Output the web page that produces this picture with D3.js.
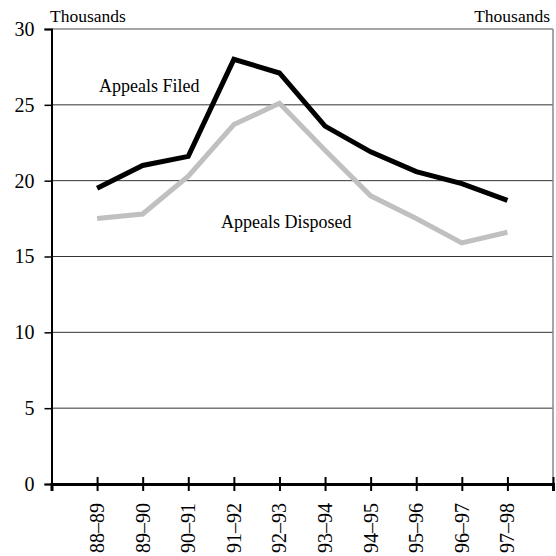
<!DOCTYPE html>
<html><head><meta charset="utf-8">
<script src="https://cdn.jsdelivr.net/npm/d3@7"></script>
<style>body{margin:0;background:#fff}svg{display:block}</style>
</head><body>
<script>
const categories = ["88–89","89–90","90–91","91–92","92–93","93–94","94–95","95–96","96–97","97–98"];
const appealsFiled = [19.5, 21.0, 21.6, 28.0, 27.1, 23.6, 21.9, 20.6, 19.8, 18.7];
const appealsDisposed = [17.5, 17.8, 20.3, 23.7, 25.1, 22.0, 19.0, 17.5, 15.9, 16.6];
const yTicks = [0, 5, 10, 15, 20, 25, 30];

const W = 556, H = 556;
const svg = d3.select("body").append("svg").attr("width", W).attr("height", H);
const font = "'Liberation Serif', 'Times New Roman', serif";

const x = d3.scaleLinear().domain([0, categories.length + 1]).range([51.5, 553]);
const y = d3.scaleLinear().domain([0, 30]).range([484, 29]);

// gridlines
svg.append("g").selectAll("line").data(yTicks.filter(d => d > 0 && d < 30)).join("line")
  .attr("x1", x(0)).attr("x2", x(11)).attr("y1", d => y(d)).attr("y2", d => y(d))
  .attr("stroke", "#333").attr("stroke-width", 1);
// top and right frame
svg.append("line").attr("x1", x(0)).attr("x2", x(11)).attr("y1", y(30)).attr("y2", y(30))
  .attr("stroke", "#888").attr("stroke-width", 1.5);
svg.append("line").attr("x1", x(11)).attr("x2", x(11)).attr("y1", y(30)).attr("y2", y(0))
  .attr("stroke", "#888").attr("stroke-width", 1.5);

// left axis
const yAxis = svg.append("g").attr("transform", `translate(${x(0)},0)`)
  .call(d3.axisLeft(y).tickValues(yTicks).tickSize(7).tickPadding(10).tickFormat(d3.format("d")));
yAxis.select(".domain").attr("stroke", "#000").attr("stroke-width", 2);
yAxis.selectAll(".tick line").attr("stroke", "#000").attr("stroke-width", 1.5);
yAxis.selectAll("text").attr("font-family", font).attr("font-size", 20).attr("fill", "#000");

// bottom axis
const xAxis = svg.append("g").attr("transform", `translate(0,${y(0)})`)
  .call(d3.axisBottom(x).tickValues(d3.range(0, categories.length + 2)).tickSize(7).tickFormat(""));
xAxis.select(".domain").attr("stroke", "#000").attr("stroke-width", 3);
xAxis.selectAll(".tick line").attr("stroke", "#000").attr("stroke-width", 2).attr("y1", -7);

// x labels
svg.append("g").selectAll("text").data(categories).join("text")
  .attr("transform", (d, i) => `translate(${x(i + 1)},${503}) rotate(-90)`)
  .attr("dy", "0.35em").attr("text-anchor", "end")
  .attr("font-family", font).attr("font-size", 20).attr("fill", "#000")
  .text(d => d);

// lines
const line = d3.line().x((d, i) => x(i + 1)).y(d => y(d));
svg.append("path").datum(appealsDisposed).attr("d", line)
  .attr("fill", "none").attr("stroke", "#c0c0c0").attr("stroke-width", 5).attr("stroke-linejoin", "miter");
svg.append("path").datum(appealsFiled).attr("d", line)
  .attr("fill", "none").attr("stroke", "#000").attr("stroke-width", 5).attr("stroke-linejoin", "miter");

// labels
const lab = (t, xx, yy, anchor) => svg.append("text").attr("x", xx).attr("y", yy)
  .attr("text-anchor", anchor || "start").attr("font-family", font).attr("font-size", 18).attr("fill", "#000").text(t);
lab("Thousands", 50, 22, "start").attr("font-size", 17.5);
lab("Thousands", 550, 22, "end").attr("font-size", 17.5);
lab("Appeals Filed", 99, 92);
lab("Appeals Disposed", 221, 228);
</script>
</body></html>
